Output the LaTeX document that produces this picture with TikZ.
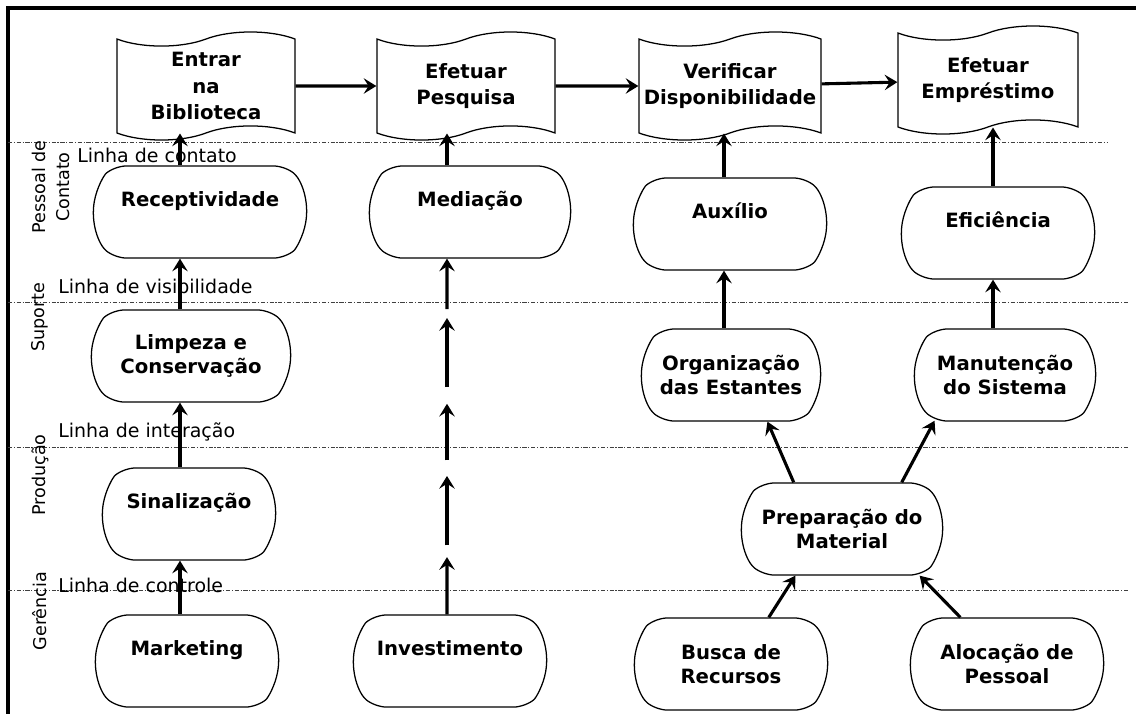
\documentclass[tikz,border=0pt]{standalone}
\usepackage{fontspec}
\setmainfont{DejaVu Sans}
\usetikzlibrary{shapes.misc,shapes.symbols,arrows.meta,calc,positioning}
\tikzset{service step/.style={draw=black, line width=0.9pt, rounded rectangle, rounded rectangle arc length=100, rounded corners=8pt, minimum width=4.9cm, minimum height=2.3cm, align=center, inner sep=1pt, font=\fontsize{14}{17.5}\selectfont\bfseries}}
\tikzset{single line/.style={text height=10pt, text depth=18pt}}
\tikzset{customer action/.style={draw=black, line width=0.9pt, tape, tape bend height=10pt, minimum width=4.45cm, minimum height=2.7cm, align=center, inner sep=1pt, font=\fontsize{14}{19}\selectfont\bfseries}}
\tikzset{lane line/.style={draw=black!75, line width=0.7pt, dash pattern=on 3pt off 1.2pt on 0.8pt off 1.2pt}}
\tikzset{lane name/.style={rotate=90, align=center, inner sep=0pt, font=\fontsize{12.5}{17}\selectfont}}
\tikzset{line name/.style={anchor=base west, inner sep=0pt, font=\fontsize{13.5}{16}\selectfont}}
\tikzset{flow/.style={line width=2.2pt, -{Stealth[length=9pt,width=11pt,inset=3.5pt]}}}
\begin{document}
\begin{tikzpicture}[x=0.025cm, y=-0.025cm]
\useasboundingbox (0,0) rectangle (1136,713);
\draw[line width=2.2pt] (8,720) -- (8,8) -- (1145,8);
% lines between the lanes
\draw[lane line] (8,142) -- (1108,142);
\foreach \y in {302,447,590}
  \draw[lane line] (8,\y) -- (1128,\y);
\node[line name] (contato) at (77,162) {Linha de contato};
\node[line name] (visib) at (58,293) {Linha de visibilidade};
\node[line name] (interac) at (58,437) {Linha de interação};
\node[line name] (controle) at (58,592) {Linha de controle};
\node[lane name] (lane contato) at (51,187) {Pessoal de\\Contato};
\node[lane name] (lane suporte) at (40,317) {Suporte};
\node[lane name] (lane producao) at (40,475) {Produção};
\node[lane name] (lane gerencia) at (40,611) {Gerência};
% customer actions
\node[customer action] (entrar) at (206,86) {Entrar\\na\\Biblioteca};
\node[customer action] (pesquisa) at (466,86) {Efetuar\\Pesquisa};
\node[customer action, minimum width=4.55cm] (verificar) at (730,86) {Verificar\\Disponibilidade};
\node[customer action, minimum width=4.5cm] (emprestimo) at (988,80) {Efetuar\\Empréstimo};
\draw[flow] (entrar) -- (pesquisa);
\draw[flow] (pesquisa) -- (verificar);
\draw[flow] (verificar) -- (emprestimo);
% service steps
\node[service step, single line, minimum width=5.4cm] (recep) at (200,212) {Receptividade};
\node[service step, single line, minimum width=5.1cm] (mediacao) at (470,212) {Mediação};
\node[service step, single line] (auxilio) at (730,224) {Auxílio};
\node[service step, single line] (eficiencia) at (998,233) {Eficiência};
\node[service step, minimum width=5.05cm] (limpeza) at (191,356) {Limpeza e\\Conservação};
\node[service step, minimum width=4.55cm] (organiz) at (731,375) {Organização\\das Estantes};
\node[service step, minimum width=4.6cm] (manut) at (1005,375) {Manutenção\\do Sistema};
\node[service step, single line, minimum width=4.4cm] (sinal) at (189,514) {Sinalização};
\node[service step, minimum width=5.1cm] (prepar) at (842,529) {Preparação do\\Material};
\node[service step, single line, minimum width=4.65cm] (marketing) at (187,661) {Marketing};
\node[service step, single line] (invest) at (450,661) {Investimento};
\node[service step] (busca) at (731,664) {Busca de\\Recursos};
\node[service step] (alocacao) at (1007,664) {Alocação de\\Pessoal};
% columns of the vertical arrows
\coordinate (c1) at (180,0);
\coordinate (c2) at (447,0);
\coordinate (c3) at (724,0);
\coordinate (c4) at (993,0);
\draw[flow] (marketing.north -| c1) -- (sinal.south -| c1);
\draw[flow] (sinal.north -| c1) -- (limpeza.south -| c1);
\draw[flow] (limpeza.north -| c1) -- (recep.south -| c1);
\draw[flow] (recep.north -| c1) -- (entrar.south -| c1);
\foreach \s/\e in {0/.161, .194/.389, .433/.592, .639/.833, .858/1}
  \draw[flow] ($(invest.north -| c2)!\s!(mediacao.south -| c2)$) -- ($(invest.north -| c2)!\e!(mediacao.south -| c2)$);
\draw[flow] (mediacao.north -| c2) -- (pesquisa.south -| c2);
\draw[flow] (organiz.north -| c3) -- (auxilio.south -| c3);
\draw[flow] (auxilio.north -| c3) -- (verificar.south -| c3);
\draw[flow] (manut.north -| c4) -- (eficiencia.south -| c4);
\draw[flow] (eficiencia.north -| c4) -- (emprestimo.south -| c4);
\draw[flow] (prepar.136) -- (organiz.-52);
\draw[flow] (prepar.38) -- (manut.-147);
\draw[flow] (busca.51) -- (prepar.-135);
\draw[flow] (alocacao.135) -- (prepar.-31);
\end{tikzpicture}
\end{document}
